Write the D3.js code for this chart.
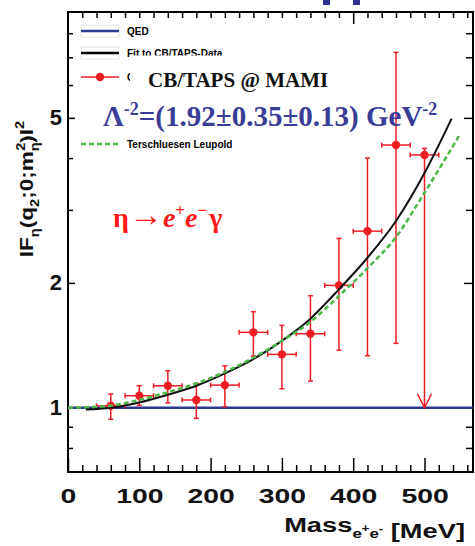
<!DOCTYPE html>
<html>
<head>
<meta charset="utf-8">
<script src="https://cdn.jsdelivr.net/npm/d3@7"></script>
<style>
  body { margin: 0; background: #fff; }
  text { font-family: "Liberation Sans", Arial, Helvetica, sans-serif; }
  .serif { font-family: "Liberation Serif", "Times New Roman", serif; }
</style>
</head>
<body>
<svg id="chart" width="475" height="546"></svg>
<script>
// measured bins (MeV) and |F|^2 with error range
const binMass = [60, 100, 140, 180, 220, 260, 300, 340, 380, 420, 460];
const binValue = [1.011, 1.069, 1.13, 1.044, 1.134, 1.52, 1.345, 1.508, 1.973, 2.666, 4.30];
const binHigh = [1.079, 1.13, 1.228, 1.145, 1.262, 1.704, 1.58, 1.862, 2.56, 4.0, 7.19];
const binLow = [0.938, 1.013, 1.028, 0.943, 1.006, 1.332, 1.111, 1.16, 1.377, 1.335, 1.43];
const binHalf = 20;
// last bin only gives an upper error, arrow down
const limitMass = [500];
const limitValue = [4.07];
const limitHigh = [4.22];
const limitLow = [1.0];

// curves
const qedMass = [0, 568];
const qedValue = [1, 1];
const fitMass = [25, 60, 100, 140, 180, 220, 260, 300, 340, 380, 420, 460, 500, 538];
const fitValue = [0.99, 1.0, 1.03, 1.075, 1.13, 1.21, 1.31, 1.45, 1.64, 1.93, 2.3, 2.82, 3.68, 4.98];
const tlMass = [0, 25, 60, 100, 140, 180, 220, 260, 300, 340, 380, 420, 460, 500, 549];
const tlValue = [1.0, 1.003, 1.012, 1.045, 1.09, 1.145, 1.22, 1.32, 1.45, 1.61, 1.86, 2.17, 2.58, 3.3, 4.54];

// axes
const xMajor = [0, 100, 200, 300, 400, 500];
const xMinor = d3.range(20, 568, 20).filter(v => v % 100 !== 0);
const yMajor = [1, 2, 5];
const yMinor = [0.8, 0.9, 3, 4, 6, 7, 8];

const legendNames = ["QED", "Fit to CB/TAPS-Data", "CB/TAPS Data", "Terschluesen Leupold"];

const red = "#ee1c25", blue = "#2b3990", green = "#4cb748";

const svg = d3.select("#chart");
const m = { l: 68, r: 473, t: 12, b: 472 };
const x = d3.scaleLinear().domain([0, 568]).range([m.l, m.r]);
const y = d3.scaleLog().domain([0.7, 9]).range([m.b, m.t]);

// clipped title glyphs at the very top
svg.selectAll("rect.title").data([[323, 7], [353, 7]]).enter().append("rect")
  .attr("x", d => d[0]).attr("y", 0).attr("width", d => d[1]).attr("height", 5)
  .attr("fill", "#2e3192");

// axes (ticks point inward)
function ticks(axis, pos, vals, size, fmt) {
  let g = svg.append("g").attr("transform", pos)
    .call(axis.tickValues(vals).tickSize(size).tickFormat(fmt || ""));
  g.select(".domain").remove();
  g.selectAll("line").attr("stroke", "#000").attr("stroke-width", 1.5);
  return g;
}
let xb = ticks(d3.axisBottom(x).tickPadding(16), `translate(0,${m.b})`, xMajor, -14, d3.format("d"));
xb.selectAll("text").attr("font-size", 21).attr("font-weight", "bold").attr("fill", "#111")
  .attr("transform", "scale(1.35,1)");
ticks(d3.axisBottom(x), `translate(0,${m.b})`, xMinor, -7);
ticks(d3.axisTop(x), `translate(0,${m.t})`, xMinor.concat([100, 200, 300, 500]), -6);
ticks(d3.axisTop(x), `translate(0,${m.t})`, [400], -12);
let yl = ticks(d3.axisLeft(y).tickPadding(6), `translate(${m.l},0)`, yMajor, -7, d3.format("d"));
yl.selectAll("text").attr("font-size", 22).attr("font-weight", "bold").attr("fill", "#111");
ticks(d3.axisLeft(y), `translate(${m.l},0)`, yMinor, -5);
ticks(d3.axisRight(y), `translate(${m.r},0)`, yMajor, -9);
ticks(d3.axisRight(y), `translate(${m.r},0)`, yMinor, -7);

svg.append("rect").attr("x", m.l).attr("y", m.t)
  .attr("width", m.r - m.l).attr("height", m.b - m.t)
  .attr("fill", "none").attr("stroke", "#000").attr("stroke-width", 2);

// legend
const legY = [31, 53, 77, 144];
const legColor = [blue, "#000", red, green];
const leg = svg.append("g");
legendNames.forEach((n, i) => {
  if (i < 2) leg.append("rect").attr("x", 81).attr("y", legY[i] - 6).attr("width", 38).attr("height", 12)
    .attr("fill", "none").attr("stroke", "#e6e6e6").attr("stroke-width", 1);
  leg.append("line").attr("x1", 81).attr("x2", 119).attr("y1", legY[i]).attr("y2", legY[i])
    .attr("stroke", legColor[i]).attr("stroke-width", i === 2 ? 1.5 : 2.5)
    .attr("stroke-dasharray", i === 3 ? "5,3" : null);
  if (i === 2) leg.append("circle").attr("cx", 100).attr("cy", legY[i]).attr("r", 4.2).attr("fill", red);
  leg.append("text").attr("x", 127).attr("y", legY[i] + 3.6).attr("font-size", 10)
    .attr("font-weight", "bold").text(n);
});

// cover box of the experiment label
svg.append("rect").attr("x", 130).attr("y", 55.5).attr("width", 215).attr("height", 40).attr("fill", "#fff");
svg.append("text").attr("class", "serif").attr("x", 148).attr("y", 87)
  .attr("font-size", 21).attr("font-weight", "bold").attr("fill", "#111").text("CB/TAPS @ MAMI");

// curves
const line = d3.line().x(d => x(d[0])).y(d => y(d[1])).curve(d3.curveMonotoneX);
svg.append("path").datum(d3.zip(qedMass, qedValue)).attr("d", line)
  .attr("fill", "none").attr("stroke", blue).attr("stroke-width", 2.5);

// error bars
const pts = binMass.map((v, i) => ({ m: v, v: binValue[i], hi: binHigh[i], lo: binLow[i], arrow: false }))
  .concat(limitMass.map((v, i) => ({ m: v, v: limitValue[i], hi: limitHigh[i], lo: limitLow[i], arrow: true })));
const eb = svg.append("g").attr("stroke", red).attr("stroke-width", 1.5).attr("fill", "none");
pts.forEach(p => {
  const cx = x(p.m), cy = y(p.v);
  const x0 = x(p.m - binHalf), x1 = x(p.m + binHalf);
  eb.append("line").attr("x1", x0).attr("x2", x1).attr("y1", cy).attr("y2", cy);
  eb.append("line").attr("x1", x0).attr("x2", x0).attr("y1", cy - 2.5).attr("y2", cy + 2.5);
  eb.append("line").attr("x1", x1).attr("x2", x1).attr("y1", cy - 2.5).attr("y2", cy + 2.5);
  eb.append("line").attr("x1", cx).attr("x2", cx).attr("y1", y(p.hi)).attr("y2", y(p.lo));
  eb.append("line").attr("x1", cx - 2.5).attr("x2", cx + 2.5).attr("y1", y(p.hi)).attr("y2", y(p.hi));
  if (p.arrow) {
    eb.append("path").attr("d", `M${cx - 7},${y(p.lo) - 14}L${cx},${y(p.lo)}L${cx + 7},${y(p.lo) - 14}`);
  } else {
    eb.append("line").attr("x1", cx - 2.5).attr("x2", cx + 2.5).attr("y1", y(p.lo)).attr("y2", y(p.lo));
  }
});
svg.append("g").selectAll("circle").data(pts).enter().append("circle")
  .attr("cx", d => x(d.m)).attr("cy", d => y(d.v)).attr("r", 4.2).attr("fill", red);

svg.append("path").datum(d3.zip(fitMass, fitValue)).attr("d", line)
  .attr("fill", "none").attr("stroke", "#111").attr("stroke-width", 2);
svg.append("path").datum(d3.zip(tlMass, tlValue)).attr("d", line)
  .attr("fill", "none").attr("stroke", green).attr("stroke-width", 2.5).attr("stroke-dasharray", "5,3");

// annotations
const lam = svg.append("text").attr("class", "serif").attr("x", 103).attr("y", 126)
  .attr("font-size", 29).attr("font-weight", "bold").attr("fill", "#3a3d96");
lam.append("tspan").text("\u039B");
lam.append("tspan").attr("font-size", 18).attr("dy", -11).text("-2");
lam.append("tspan").attr("dy", 11).text("=(1.92\u00B10.35\u00B10.13) GeV");
lam.append("tspan").attr("font-size", 18).attr("dy", -11).text("-2");

const eta = svg.append("text").attr("class", "serif").attr("x", 113).attr("y", 227)
  .attr("font-size", 28).attr("font-weight", "bold").attr("fill", "#ff1a1a");
eta.append("tspan").text("\u03B7");
eta.append("tspan").attr("font-size", 34).attr("dy", -1).text("\u2192");
eta.append("tspan").attr("font-style", "italic").attr("dy", 1).text("e");
eta.append("tspan").attr("font-size", 17).attr("dy", -11).text("+");
eta.append("tspan").attr("font-style", "italic").attr("dy", 11).text("e");
eta.append("tspan").attr("font-size", 17).attr("dy", -11).text("\u2212");
eta.append("tspan").attr("dy", 11).attr("dx", 2).text("\u03B3");

// axis titles (stretched along the text like the source)
const xt = svg.append("text").attr("transform", "translate(465,532) scale(1.3,1)")
  .attr("text-anchor", "end").attr("font-size", 21).attr("font-weight", "bold").attr("fill", "#111");
xt.append("tspan").text("Mass");
xt.append("tspan").attr("font-size", 13).attr("dy", 6).text("e");
xt.append("tspan").attr("font-size", 10).attr("dy", -6).text("+");
xt.append("tspan").attr("font-size", 13).attr("dy", 6).text("e");
xt.append("tspan").attr("font-size", 10).attr("dy", -6).text("-");
xt.append("tspan").attr("dy", 6).text(" [MeV]");

const yt = svg.append("text").attr("transform", "translate(33,189) rotate(-90) scale(1.22,1)")
  .attr("text-anchor", "middle").attr("font-size", 18.5).attr("font-weight", "bold").attr("fill", "#111");
yt.append("tspan").text("IF");
yt.append("tspan").attr("font-size", 12).attr("dy", 6).text("\u03B7");
yt.append("tspan").attr("dy", -6).text("(q");
yt.append("tspan").attr("font-size", 12).attr("dy", 6).text("2");
yt.append("tspan").attr("dy", -6).text(";0;m");
yt.append("tspan").attr("font-size", 12).attr("dy", 6).text("\u03B7");
yt.append("tspan").attr("font-size", 12).attr("dx", -7).attr("dy", -14).text("2");
yt.append("tspan").attr("dy", 8).text(")I");
yt.append("tspan").attr("font-size", 12).attr("dy", -9).text("2");
</script>
</body>
</html>
